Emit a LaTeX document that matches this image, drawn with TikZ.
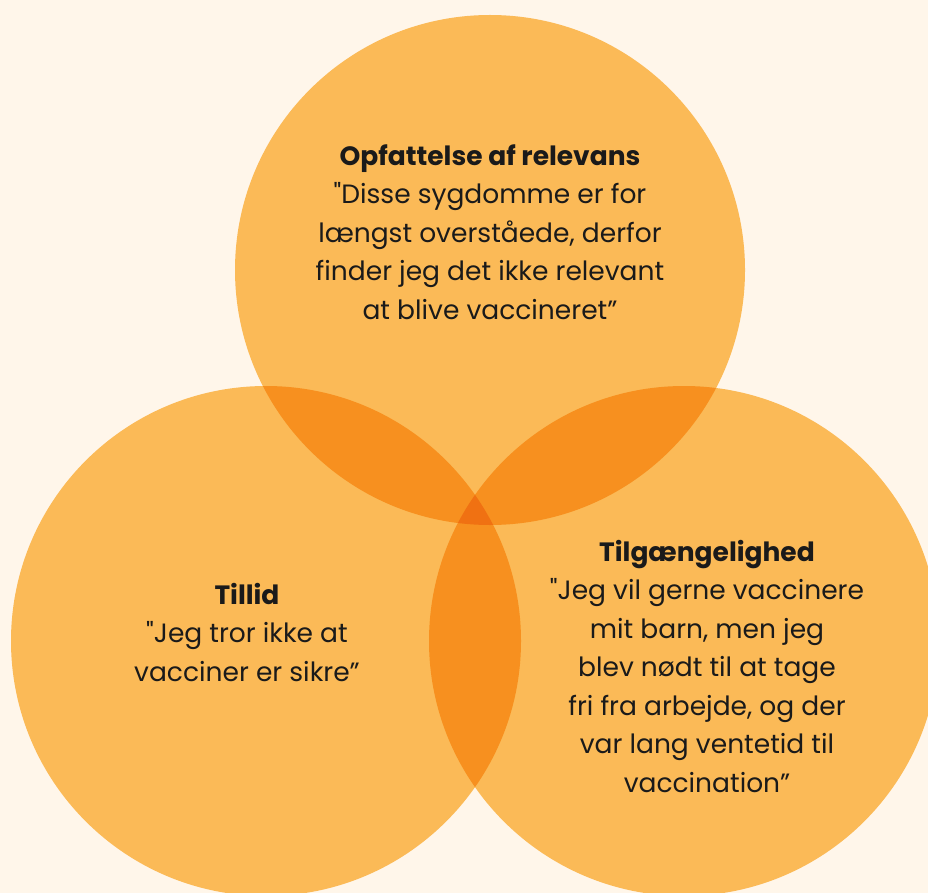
\documentclass[tikz,border=0pt]{standalone}
\usepackage{fontspec}
\setmainfont{Poppins}
\usetikzlibrary{positioning}

\definecolor{bgcream}{HTML}{FFF6EA}
\definecolor{vennone}{HTML}{FBBA57}
\definecolor{venntwo}{HTML}{F7901F}
\definecolor{vennthree}{HTML}{F07112}
\definecolor{ink}{HTML}{1A1A1A}

\tikzstyle{every node}=[align=center, text=ink, font={\fontsize{26.5}{38.5}\selectfont}, inner sep=0pt]
\newcommand{\rad}{255}
\newcommand{\oq}{\textquotedbl}

\begin{document}
\begin{tikzpicture}[x=1pt, y=-1pt]
    \fill [bgcream] (0,0) rectangle (928,893);
    \useasboundingbox (0,0) rectangle (928,893);

    \coordinate (relevans) at (490,270);
    \coordinate (tillid) at (266,641);
    \coordinate (adgang) at (684,641);

    \fill [vennone] (relevans) circle (\rad);
    \fill [vennone] (tillid) circle (\rad);
    \fill [vennone] (adgang) circle (\rad);

    \begin{scope}
        \clip (relevans) circle (\rad);
        \fill [venntwo] (tillid) circle (\rad);
        \fill [venntwo] (adgang) circle (\rad);
    \end{scope}
    \begin{scope}
        \clip (tillid) circle (\rad);
        \fill [venntwo] (adgang) circle (\rad);
    \end{scope}
    \begin{scope}
        \clip (relevans) circle (\rad);
        \clip (tillid) circle (\rad);
        \fill [vennthree] (adgang) circle (\rad);
    \end{scope}

    \node (relevanstext) at (490,232) {%
        {\bfseries Opfattelse af relevans}\\
        \oq Disse sygdomme er for\\
        længst overståede, derfor\\
        finder jeg det ikke relevant\\
        at blive vaccineret”};

    \node (tillidtext) at (247,632) {%
        {\bfseries Tillid}\\
        \oq Jeg tror ikke at\\
        vacciner er sikre”};

    \node (adgangtext) at (707,666) {%
        {\bfseries Tilgængelighed}\\
        \oq Jeg vil gerne vaccinere\\
        mit barn, men jeg\\
        blev nødt til at tage\\
        fri fra arbejde, og der\\
        var lang ventetid til\\
        vaccination”};
\end{tikzpicture}
\end{document}
